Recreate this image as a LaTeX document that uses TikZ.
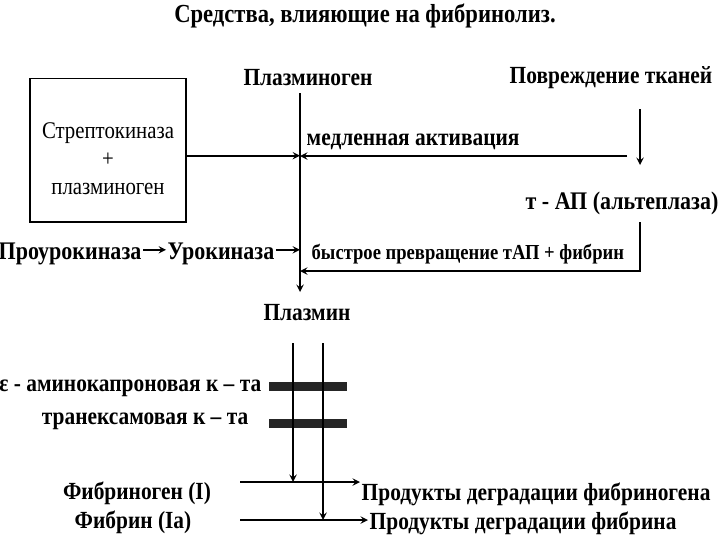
\documentclass[tikz,border=0pt]{standalone}
\usepackage{fontspec}
\setmainfont{Liberation Serif}[FakeStretch=0.87]
\usetikzlibrary{arrows.meta}
\tikzset{
  lbl/.style={font=\bfseries\fontsize{17.5}{19}\selectfont, inner sep=1pt},
  small/.style={font=\bfseries\fontsize{15.2}{17}\selectfont, inner sep=1pt},
  box/.style={draw, line width=1.4pt, minimum width=3.875cm, minimum height=3.575cm,
    align=center, font=\fontsize{17}{20}\selectfont},
  bar/.style={fill=black!85, minimum width=1.925cm, minimum height=0.225cm, inner sep=0pt},
  flow/.style={->, line width=1.3pt},
}
\begin{document}
\begin{tikzpicture}[>=stealth, x=0.025cm, y=-0.025cm]
        \useasboundingbox (0,0) rectangle (720,540);

        % Titolo
        \node[font=\bfseries\fontsize{18.5}{20}\selectfont] (title) at (365,16) {Средства, влияющие на фибринолиз.};

        % Plasminogeno e asse verticale
        \node[lbl] (plg) at (308,78) {Плазминоген};
        \coordinate (plgTop) at (300,93);
        \coordinate (plgBot) at (300,292);
        \draw[flow] (plgTop) -- (plgBot);
        \node[lbl] (plasmin) at (307,313) {Плазмин};

        % Streptochinasi
        \node[box] (strepto) at (108,150) {\rule{0pt}{24pt}Стрептокиназа\\+\\плазминоген};
        \draw[flow] ([yshift=-4]strepto.east) -- ([yshift=-4]strepto.east -| plgTop);

        % Danno tissutale -> t-PA
        \node[lbl] (tissue) at (611,78) {Повреждение тканей};
        \coordinate (tisTop) at (640,109);
        \coordinate (tisArr) at (640,165);
        \draw[flow] (tisTop) -- (tisArr);
        \node[lbl, font=\bfseries\fontsize{18}{20}\selectfont] (tpa) at (622,203) {т - АП (альтеплаза)};

        % Attivazione lenta
        \coordinate (slowR) at (627,156);
        \draw[flow] (slowR) -- (slowR -| plgTop);
        \node[lbl, anchor=south west] (slow) at (305,151) {медленная активация};

        % Conversione rapida
        \coordinate (fastTop) at (640,222);
        \coordinate (fastL) at (300,271);
        \draw[flow] (fastTop) |- (fastL);
        \node[small, anchor=south west] (fast) at (310,266) {быстрое превращение тАП + фибрин};

        % Urochinasi
        \node[lbl, font=\bfseries\fontsize{18}{20}\selectfont] (prouro) at (70,254) {Проурокиназа};
        \node[lbl, font=\bfseries\fontsize{18}{20}\selectfont] (uro) at (221,254) {Урокиназа};
        \draw[flow] ([yshift=3]prouro.east) -- ([yshift=3]uro.west);
        \draw[flow] ([yshift=3]uro.east) -- ([yshift=3]uro.east -| plgTop);

        % Plasmina: due vie e inibitori
        \coordinate (pathA) at (293,343);
        \coordinate (pathB) at (323,343);
        \node[bar] (bar1) at (308,386) {};
        \node[bar] (bar2) at (308,423) {};
        \node[lbl, anchor=east] (eaca) at (263,388) {ε - аминокапроновая к – та};
        \node[lbl, anchor=east] (txa) at (250,421) {транексамовая к – та};

        % Substrati e prodotti
        \node[lbl] (fgn) at (137,493) {Фибриноген (I)};
        \node[lbl] (fbn) at (133,522) {Фибрин (Ia)};
        \node[lbl, anchor=west] (fdp) at (360,494) {Продукты деградации фибриногена};
        \node[lbl, anchor=west] (ffdp) at (368,523) {Продукты деградации фибрина};
        \coordinate (fgnL) at (240,482);
        \coordinate (fbnL) at (240,520);
        \draw[flow] (fgnL) -- (fgnL -| fdp.west);
        \draw[flow] (fbnL) -- (fbnL -| ffdp.west);
        \draw[flow] (pathA) -- (pathA |- fgnL);
        \draw[flow] (pathB) -- (pathB |- fbnL);

\end{tikzpicture}
\end{document}
